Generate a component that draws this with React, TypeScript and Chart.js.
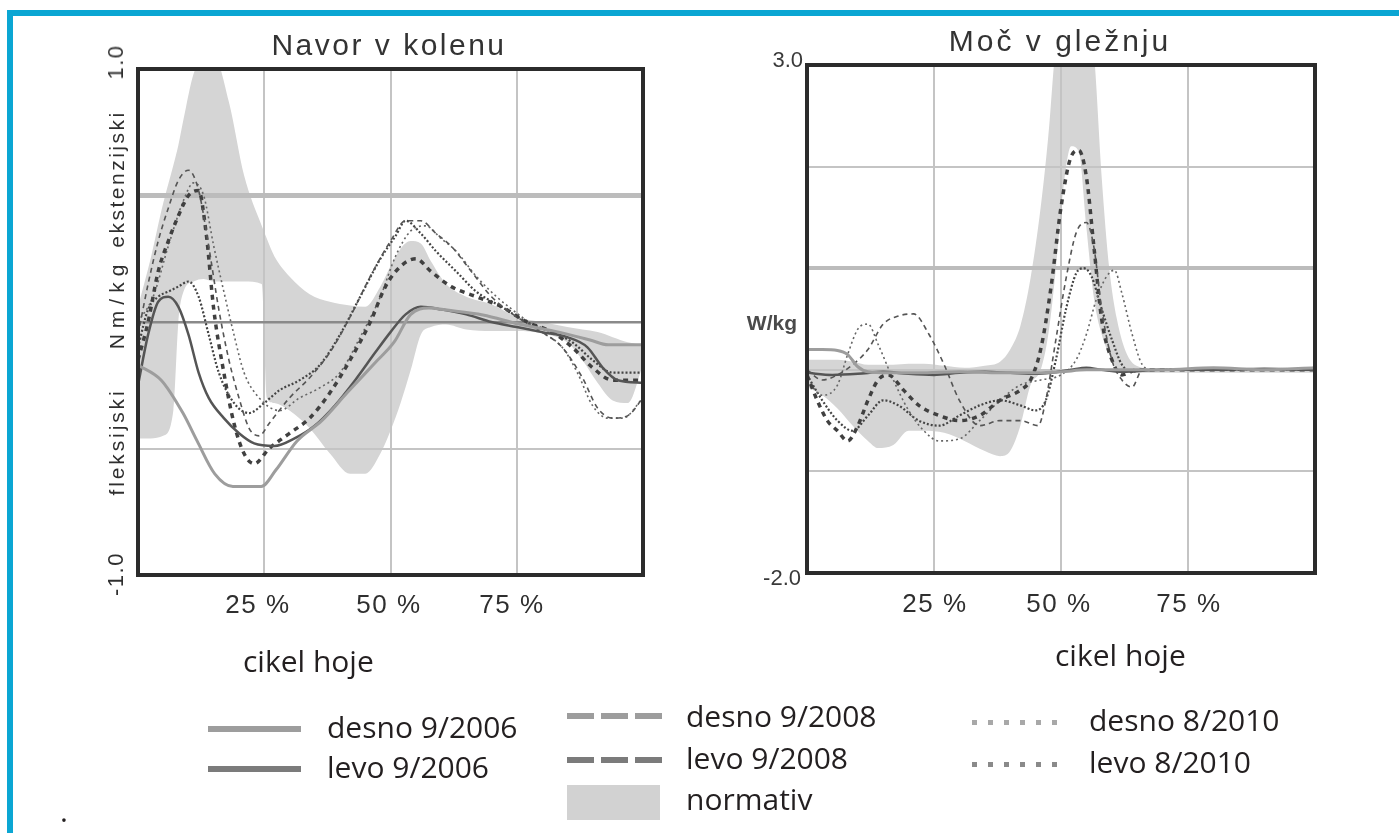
import React, { useEffect, useRef } from 'react';
import Chart from 'chart.js/auto';

// ---------- shared axis data ----------
const xTickValues = [25, 50, 75];
const xTickLabels = ['25 %', '50 %', '75 %'];

// ---------- knee moment (Nm/kg) ----------
const kneeNormX = [0, 2.5, 5, 7, 8, 9, 11, 13, 15, 18, 21, 24.5, 25.5, 27, 30, 34, 38, 42, 45, 48, 50, 52, 54, 56, 58, 61, 65, 70, 75, 80, 85, 88, 91, 94, 97, 100];
const kneeNormUpper = [0.06, 0.25, 0.47, 0.62, 0.7, 0.8, 0.98, 1.05, 1.05, 0.87, 0.58, 0.38, 0.33, 0.26, 0.18, 0.11, 0.08, 0.065, 0.06, 0.14, 0.22, 0.29, 0.32, 0.31, 0.24, 0.15, 0.1, 0.07, 0.02, 0.0, -0.02, -0.03, -0.04, -0.06, -0.08, -0.09];
const kneeNormLower = [-0.46, -0.46, -0.45, -0.35, 0.0, 0.12, 0.16, 0.17, 0.16, 0.16, 0.16, 0.15, -0.3, -0.32, -0.35, -0.42, -0.52, -0.6, -0.6, -0.52, -0.43, -0.32, -0.19, -0.05, -0.02, -0.01, -0.03, -0.036, -0.036, -0.045, -0.08, -0.15, -0.24, -0.31, -0.32, -0.17];

const kneeDesno2006 = [[0, -0.17], [4.6, -0.23], [8.9, -0.36], [11.7, -0.47], [15.2, -0.6], [18.8, -0.65], [24.4, -0.65], [27.3, -0.585], [31.5, -0.47], [36.4, -0.39], [41.4, -0.28], [47, -0.16], [50.7, -0.08], [54, 0.03], [57.6, 0.055], [61.2, 0.047], [68.3, 0.028], [75.4, -0.008], [82.4, -0.036], [89.5, -0.071], [93.1, -0.09], [100, -0.09]];
const kneeLevo2006 = [[0, -0.25], [2, -0.05], [4, 0.08], [6, 0.1], [8, 0.06], [10, -0.05], [12, -0.2], [14, -0.3], [17, -0.38], [20, -0.44], [23, -0.48], [27, -0.49], [31, -0.46], [35, -0.41], [39, -0.33], [43, -0.23], [47, -0.12], [50, -0.04], [53, 0.03], [56, 0.06], [60, 0.05], [65, 0.03], [70, 0.0], [75, -0.02], [80, -0.04], [85, -0.06], [89, -0.1], [92, -0.18], [95, -0.23], [100, -0.24]];
const kneeDesno2008 = [[0, -0.05], [2, 0.15], [4, 0.32], [6, 0.45], [8, 0.56], [10, 0.6], [12, 0.52], [14, 0.3], [16, 0.05], [18, -0.15], [20, -0.3], [22, -0.42], [24, -0.45], [26, -0.4], [30, -0.3], [34, -0.22], [38, -0.12], [42, 0.02], [46, 0.18], [50, 0.32], [53, 0.4], [56, 0.4], [59, 0.35], [62, 0.3], [66, 0.2], [70, 0.1], [75, 0.02], [80, -0.04], [84, -0.1], [88, -0.22], [91, -0.34], [94, -0.38], [97, -0.37], [100, -0.3]];
const kneeLevo2008 = [[0, -0.15], [2, 0.0], [4, 0.2], [6, 0.32], [8, 0.42], [10, 0.5], [12, 0.52], [13.5, 0.35], [15, 0.05], [17, -0.2], [19, -0.4], [21, -0.52], [23, -0.56], [26, -0.5], [30, -0.44], [34, -0.38], [38, -0.28], [42, -0.15], [46, 0.0], [49, 0.14], [52, 0.22], [55, 0.25], [58, 0.2], [62, 0.14], [67, 0.1], [72, 0.06], [77, 0.0], [82, -0.04], [86, -0.1], [90, -0.18], [94, -0.23], [100, -0.23]];
const kneeDesno2010 = [[0, 0.0], [3, 0.1], [6, 0.3], [9, 0.48], [11, 0.55], [13, 0.5], [15, 0.3], [17, 0.12], [19, -0.05], [21, -0.2], [24, -0.3], [28, -0.35], [32, -0.3], [36, -0.26], [40, -0.2], [44, -0.06], [48, 0.1], [51, 0.26], [54, 0.36], [57, 0.38], [60, 0.33], [63, 0.28], [67, 0.18], [71, 0.1], [76, 0.02], [80, -0.04], [84, -0.1], [87, -0.2], [90, -0.33], [93, -0.38], [96, -0.38], [100, -0.3]];
const kneeLevo2010 = [[0, -0.1], [2, 0.05], [4, 0.1], [6, 0.12], [8, 0.14], [10, 0.16], [12, 0.1], [14, -0.05], [16, -0.2], [19, -0.32], [22, -0.36], [25, -0.32], [28, -0.27], [32, -0.23], [36, -0.17], [40, -0.05], [44, 0.1], [48, 0.25], [51, 0.34], [53, 0.4], [56, 0.35], [59, 0.28], [63, 0.2], [67, 0.12], [72, 0.06], [77, 0.0], [82, -0.04], [86, -0.08], [90, -0.15], [94, -0.2], [100, -0.2]];

// ---------- ankle power (W/kg) ----------
const ankleNormX = [0, 3, 6, 9, 12, 14, 17, 20, 23, 27, 31, 35, 38, 40, 42, 44, 46, 47.5, 49, 50.5, 52, 53.5, 55, 56.5, 58, 59.5, 61, 63, 66, 70, 80, 90, 100];
const ankleNormUpper = [0.1, 0.1, 0.1, 0.08, 0.05, 0.05, 0.05, 0.06, 0.06, 0.04, 0.02, 0.04, 0.08, 0.2, 0.43, 0.9, 1.6, 2.3, 3.2, 3.5, 3.6, 3.6, 3.5, 3.1, 1.9, 1.0, 0.5, 0.15, 0.02, 0.0, 0.0, 0.0, 0.0];
const ankleNormLower = [-0.17, -0.25, -0.38, -0.55, -0.7, -0.77, -0.74, -0.6, -0.6, -0.62, -0.7, -0.8, -0.85, -0.8, -0.55, -0.15, 0.0, 0.35, 1.0, 1.8, 2.2, 2.15, 1.4, 0.7, 0.35, 0.15, 0.02, -0.02, -0.03, -0.03, -0.03, -0.03, -0.03];

const ankleDesno2006 = [[0, 0.2], [3, 0.2], [6, 0.19], [8, 0.15], [10, 0.03], [12, -0.02], [16, -0.03], [22, -0.03], [30, -0.02], [38, -0.03], [45, -0.03], [50, -0.02], [55, 0.0], [60, 0.0], [70, 0.0], [80, 0.02], [90, 0.0], [100, 0.02]];
const ankleLevo2006 = [[0, -0.03], [5, -0.05], [10, -0.04], [15, -0.02], [20, -0.04], [25, -0.05], [30, -0.03], [35, -0.02], [40, -0.03], [45, -0.04], [48, -0.03], [52, 0.0], [55, 0.02], [58, 0.0], [62, -0.02], [70, 0.0], [80, 0.0], [90, 0.01], [100, 0.0]];
const ankleDesno2008 = [[0, 0.0], [3, -0.1], [6, -0.05], [9, 0.05], [12, 0.2], [15, 0.45], [18, 0.53], [21, 0.55], [24, 0.35], [27, 0.05], [30, -0.3], [34, -0.55], [38, -0.5], [42, -0.5], [45.5, -0.55], [47, -0.3], [49, 0.3], [51, 0.9], [53, 1.35], [55, 1.45], [56.5, 1.2], [58, 0.6], [60, 0.1], [62, -0.1], [64, -0.17], [66, 0.0], [75, 0.0], [100, 0.0]];
const ankleLevo2008 = [[0, -0.05], [2, -0.3], [4, -0.5], [6, -0.6], [8, -0.7], [10, -0.55], [12, -0.3], [14, -0.1], [16, -0.05], [19, -0.2], [22, -0.35], [26, -0.45], [30, -0.5], [34, -0.45], [38, -0.3], [42, -0.2], [44, -0.1], [46, 0.2], [48, 0.8], [50, 1.6], [52, 2.1], [53.5, 2.16], [55, 1.9], [56.5, 1.2], [58, 0.5], [60, 0.1], [62, -0.05], [65, 0.0], [100, 0.0]];
const ankleDesno2010 = [[0, -0.1], [3, -0.25], [6, -0.15], [8, 0.15], [10, 0.4], [12, 0.45], [14, 0.25], [17, -0.1], [20, -0.4], [23, -0.6], [26, -0.7], [30, -0.68], [34, -0.5], [38, -0.3], [42, -0.15], [46, -0.1], [50, -0.05], [53, 0.1], [55, 0.35], [57, 0.7], [59, 0.92], [60.5, 0.98], [62, 0.75], [64, 0.35], [66, 0.05], [68, 0.0], [100, 0.0]];
const ankleLevo2010 = [[0, -0.05], [3, -0.3], [6, -0.5], [9, -0.6], [12, -0.45], [15, -0.3], [18, -0.35], [22, -0.5], [26, -0.55], [30, -0.45], [34, -0.35], [38, -0.3], [42, -0.35], [45, -0.4], [47, -0.3], [49, 0.1], [51, 0.6], [53, 0.95], [54.5, 1.0], [56, 0.92], [58, 0.6], [60, 0.3], [62, 0.05], [64, -0.02], [66, 0.0], [100, 0.0]];

const seriesStyles = [
  { color: '#9d9d9d', width: 3, dash: [] as number[] },        // desno 9/2006
  { color: '#555555', width: 2.5, dash: [] as number[] },      // levo 9/2006
  { color: '#555555', width: 1.6, dash: [5, 4] },              // desno 9/2008
  { color: '#404040', width: 3.5, dash: [5, 5] },              // levo 9/2008
  { color: '#666666', width: 1.6, dash: [2, 3] },              // desno 8/2010
  { color: '#444444', width: 2.2, dash: [2, 2] },              // levo 8/2010
];

const toPts = (arr: number[][]) => arr.map(([x, y]) => ({ x, y }));

const framePlugin = {
  id: 'frame',
  afterDatasetsDraw(chart: any) {
    const { ctx, chartArea } = chart;
    ctx.save();
    ctx.strokeStyle = '#2b2b2b';
    ctx.lineWidth = 4;
    ctx.strokeRect(chartArea.left, chartArea.top, chartArea.right - chartArea.left, chartArea.bottom - chartArea.top);
    ctx.restore();
  },
};

function buildConfig(
  normX: number[], upper: number[], lower: number[], series: number[][][],
  yMin: number, yMax: number, yStep: number,
  padding: { left: number; top: number; right: number; bottom: number },
  yGrid: (v: number) => { color: string; width: number }
): any {
  const lineSets = series.map((s, i) => ({
    data: toPts(s),
    borderColor: seriesStyles[i].color,
    borderWidth: seriesStyles[i].width,
    borderDash: seriesStyles[i].dash,
    pointRadius: 0,
    fill: false,
    tension: 0.3,
    cubicInterpolationMode: 'monotone',
    order: i,
  }));
  const bandUpper = {
    data: normX.map((x, i) => ({ x, y: upper[i] })),
    borderColor: 'rgba(0,0,0,0)',
    borderWidth: 0,
    backgroundColor: '#d5d5d5',
    pointRadius: 0,
    fill: '+1',
    tension: 0.2,
    cubicInterpolationMode: 'monotone',
    order: 20,
  };
  const bandLower = {
    data: normX.map((x, i) => ({ x, y: lower[i] })),
    borderColor: 'rgba(0,0,0,0)',
    borderWidth: 0,
    pointRadius: 0,
    fill: false,
    tension: 0.2,
    cubicInterpolationMode: 'monotone',
    order: 21,
  };
  return {
    type: 'line',
    data: { datasets: [...lineSets, bandUpper, bandLower] },
    options: {
      animation: false,
      responsive: false,
      events: [],
      layout: { padding },
      plugins: {
        legend: { display: false },
        tooltip: { enabled: false },
        filler: { drawTime: 'beforeDraw' },
      },
      scales: {
        x: {
          type: 'linear',
          min: 0,
          max: 100,
          ticks: { display: false, stepSize: 25 },
          border: { display: false },
          grid: {
            drawTicks: false,
            color: (c: any) => (c.tick && xTickValues.includes(c.tick.value) ? '#c4c4c4' : 'rgba(0,0,0,0)'),
            lineWidth: 2,
          },
        },
        y: {
          type: 'linear',
          min: yMin,
          max: yMax,
          ticks: { display: false, stepSize: yStep },
          border: { display: false },
          grid: {
            drawTicks: false,
            color: (c: any) => (c.tick ? yGrid(c.tick.value).color : 'rgba(0,0,0,0)'),
            lineWidth: (c: any) => (c.tick ? yGrid(c.tick.value).width : 0),
          },
        },
      },
    },
    plugins: [framePlugin],
  };
}

const W = 1399;
const H = 833;

const chartFont = '"Liberation Sans", Arial, sans-serif';
const legendFont = '"Open Sans", sans-serif';

const abs = (left: number, top: number, extra: React.CSSProperties = {}): React.CSSProperties => ({
  position: 'absolute', left, top, whiteSpace: 'nowrap', lineHeight: 1, ...extra,
});

function Label({ x, y, text, size, spacing = 0, rotate = false, align = 'center', bold = false, color = '#2f2f2f' }: any) {
  const tx = align === 'right' ? '-100%' : '-50%';
  return (
    <div style={abs(x, y, {
      fontFamily: chartFont, fontSize: size, letterSpacing: spacing, color,
      fontWeight: bold ? 'bold' : 'normal',
      transform: `translate(${tx},-50%)${rotate ? ' rotate(-90deg)' : ''}`,
    })}>{text}</div>
  );
}

function LegendText({ x, y, text }: any) {
  return <div style={abs(x, y, { fontFamily: legendFont, fontSize: 30, color: '#231f20' })}>{text}</div>;
}

export default function App() {
  const kneeRef = useRef<HTMLCanvasElement>(null);
  const ankleRef = useRef<HTMLCanvasElement>(null);

  useEffect(() => {
    const knee = new Chart(kneeRef.current as HTMLCanvasElement, buildConfig(
      kneeNormX, kneeNormUpper, kneeNormLower,
      [kneeDesno2006, kneeLevo2006, kneeDesno2008, kneeLevo2008, kneeDesno2010, kneeLevo2010],
      -1, 1, 0.5,
      { left: 138, top: 69, right: W - 643, bottom: H - 575 },
      (v) => {
        if (Math.abs(v - 0.5) < 1e-6) return { color: '#bcbcbc', width: 5 };
        if (Math.abs(v) < 1e-6) return { color: '#8a8a8a', width: 2.5 };
        if (Math.abs(v + 0.5) < 1e-6) return { color: '#c4c4c4', width: 2 };
        return { color: 'rgba(0,0,0,0)', width: 0 };
      }
    ));
    const ankle = new Chart(ankleRef.current as HTMLCanvasElement, buildConfig(
      ankleNormX, ankleNormUpper, ankleNormLower,
      [ankleDesno2006, ankleLevo2006, ankleDesno2008, ankleLevo2008, ankleDesno2010, ankleLevo2010],
      -2, 3, 1,
      { left: 807, top: 65, right: W - 1315, bottom: H - 573 },
      (v) => {
        if (Math.abs(v - 1) < 1e-6) return { color: '#bcbcbc', width: 4 };
        if (v > -2 && v < 3) return { color: '#c4c4c4', width: 2 };
        return { color: 'rgba(0,0,0,0)', width: 0 };
      }
    ));
    return () => { knee.destroy(); ankle.destroy(); };
  }, []);

  const kneeX = [258, 389, 512];
  const ankleX = [935, 1059, 1189];

  return (
    <div style={{ position: 'absolute', left: 0, top: 0, width: W, height: H, background: '#fff', overflow: 'hidden' }}>
      {/* cyan frame */}
      <div style={{ position: 'absolute', left: 7, top: 10, width: W - 7, height: 6, background: '#0ba6d3' }} />
      <div style={{ position: 'absolute', left: 7, top: 10, width: 6, height: H - 10, background: '#0ba6d3' }} />

      <canvas ref={kneeRef} width={W} height={H} style={{ position: 'absolute', left: 0, top: 0 }} />
      <canvas ref={ankleRef} width={W} height={H} style={{ position: 'absolute', left: 0, top: 0 }} />

      {/* titles */}
      <Label x={389} y={45} text="Navor v kolenu" size={30} spacing={2.5} color="#333" />
      <Label x={1060} y={41} text="Moč v gležnju" size={30} spacing={3} color="#333" />

      {/* knee axis labels */}
      <Label x={116} y={62} text="1.0" size={22} spacing={1.5} rotate />
      <Label x={116} y={574} text="-1.0" size={22} spacing={1.5} rotate />
      <Label x={116} y={179} text="ekstenzijski" size={21} spacing={2.5} rotate />
      <Label x={116} y={304} text="Nm/kg" size={21} spacing={6} rotate />
      <Label x={116} y={442} text="fleksijski" size={21} spacing={2.9} rotate />
      {xTickLabels.map((t, i) => <Label key={'k' + t} x={kneeX[i]} y={604} text={t} size={26} spacing={1.5} />)}

      {/* ankle axis labels */}
      <Label x={803} y={60} text="3.0" size={22} align="right" color="#3a3a3a" />
      <Label x={801} y={578} text="-2.0" size={22} align="right" color="#3a3a3a" />
      <Label x={797} y={322} text="W/kg" size={21} align="right" bold color="#4a4a4a" />
      {xTickLabels.map((t, i) => <Label key={'a' + t} x={ankleX[i]} y={603} text={t} size={26} spacing={1.5} />)}

      {/* x axis titles */}
      <LegendText x={243} y={646} text="cikel hoje" />
      <LegendText x={1055} y={640} text="cikel hoje" />

      {/* legend */}
      <div style={{ position: 'absolute', left: 208, top: 726, width: 93, height: 6, background: '#9d9d9d' }} />
      <LegendText x={327} y={712} text="desno 9/2006" />
      <div style={{ position: 'absolute', left: 208, top: 766, width: 93, height: 6, background: '#7b7b7b' }} />
      <LegendText x={327} y={752} text="levo 9/2006" />

      <div style={{ position: 'absolute', left: 567, top: 713, width: 95, height: 6, background: 'repeating-linear-gradient(90deg, #9d9d9d 0 27px, transparent 27px 34px)' }} />
      <LegendText x={686} y={701} text="desno 9/2008" />
      <div style={{ position: 'absolute', left: 567, top: 757, width: 95, height: 6, background: 'repeating-linear-gradient(90deg, #7b7b7b 0 27px, transparent 27px 34px)' }} />
      <LegendText x={686} y={743} text="levo 9/2008" />
      <div style={{ position: 'absolute', left: 567, top: 785, width: 93, height: 35, background: '#d2d2d2' }} />
      <LegendText x={686} y={784} text="normativ" />

      <div style={{ position: 'absolute', left: 972, top: 720, width: 90, height: 5, background: 'repeating-linear-gradient(90deg, #a8a8a8 0 5px, transparent 5px 16px)' }} />
      <LegendText x={1089} y={705} text="desno 8/2010" />
      <div style={{ position: 'absolute', left: 972, top: 762, width: 90, height: 5, background: 'repeating-linear-gradient(90deg, #8a8a8a 0 5px, transparent 5px 16px)' }} />
      <LegendText x={1089} y={747} text="levo 8/2010" />

      <LegendText x={60} y={796} text="." />
    </div>
  );
}
